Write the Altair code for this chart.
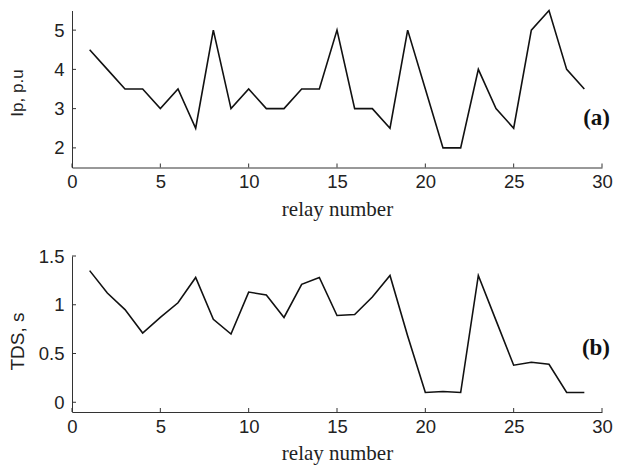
import altair as alt
import pandas as pd

relay = list(range(1, 30))
ip_pu = [4.5, 4.0, 3.5, 3.5, 3.0, 3.5, 2.5, 5.0, 3.0, 3.5, 3.0, 3.0, 3.5, 3.5, 5.0,
         3.0, 3.0, 2.5, 5.0, 3.5, 2.0, 2.0, 4.0, 3.0, 2.5, 5.0, 5.5, 4.0, 3.5]
tds_s = [1.35, 1.12, 0.95, 0.71, 0.87, 1.02, 1.28, 0.85, 0.70, 1.13, 1.10, 0.87, 1.21, 1.28, 0.89,
         0.90, 1.08, 1.30, 0.68, 0.10, 0.11, 0.10, 1.30, 0.84, 0.38, 0.41, 0.39, 0.10, 0.10]
x_ticks = [0, 5, 10, 15, 20, 25, 30]
ya_ticks = [2, 3, 4, 5]
yb_ticks = [0, 0.5, 1, 1.5]
panel_labels = ["(a)", "(b)"]

W = 530
SANS = "Liberation Sans"
SERIF = "Liberation Serif"


def panel(values, ydom, yticks, ytitle, ytitle_size, ytitle_x, label, H, title_y, label_y):
    df = pd.DataFrame({"relay": relay, "v": values})
    xs = alt.Scale(domain=[0, 30], nice=False, zero=False)
    ys = alt.Scale(domain=ydom, nice=False, zero=False)
    line = alt.Chart(df).mark_line(color="#111111", strokeWidth=1.6).encode(
        x=alt.X("relay:Q", scale=xs, axis=alt.Axis(
            values=x_ticks, ticks=False, labelPadding=5, labelFlush=False,
            title="relay number",
            titleFont=SERIF, titleFontSize=21, titleFontWeight="normal",
            titlePadding=7, titleColor="#222222")),
        y=alt.Y("v:Q", scale=ys, axis=alt.Axis(
            values=yticks, ticks=False, labelPadding=8, labelFlush=False, format="~g",
            title=ytitle,
            titleFont=SANS, titleFontSize=ytitle_size, titleFontWeight="normal",
            titleBaseline="alphabetic", titleX=ytitle_x, titleY=title_y, titleColor="#222222")),
    )
    xt = alt.Chart(pd.DataFrame({"relay": x_ticks})).mark_rule(color="#333333", strokeWidth=1).encode(
        x=alt.X("relay:Q", scale=xs),
        y=alt.value(H), y2=alt.value(H - 4),
    )
    yt = alt.Chart(pd.DataFrame({"v": yticks})).mark_rule(color="#333333", strokeWidth=1).encode(
        y=alt.Y("v:Q", scale=ys),
        x=alt.value(0), x2=alt.value(4),
    )
    lab = alt.Chart(pd.DataFrame({"l": [label]})).mark_text(
        font=SERIF, fontSize=23, fontWeight="bold", align="right", baseline="alphabetic",
        color="#111111").encode(
        text="l:N", x=alt.value(W + 8), y=alt.value(label_y))
    return alt.layer(line, xt, yt, lab).properties(width=W, height=H)


pa = panel(ip_pu, [1.5, 5.5], ya_ticks, "Ip, p.u", 17, -50, panel_labels[0], 157, 82, 114)
pb = panel(tds_s, [-0.1, 1.5], yb_ticks, "TDS, s", 19, -49, panel_labels[1], 156, 85, 99)

chart = alt.vconcat(pa, pb, spacing=27.5).properties(
    padding={"left": 0, "top": -1.5, "right": 0, "bottom": 5}, background="white"
).configure_view(stroke=None).configure_axis(
    domainColor="#333333", domainWidth=1, grid=False,
    labelFont=SANS, labelFontSize=18.5, labelColor="#222222",
)

chart.save("out.html", embed_options={"renderer": "svg", "actions": False})
